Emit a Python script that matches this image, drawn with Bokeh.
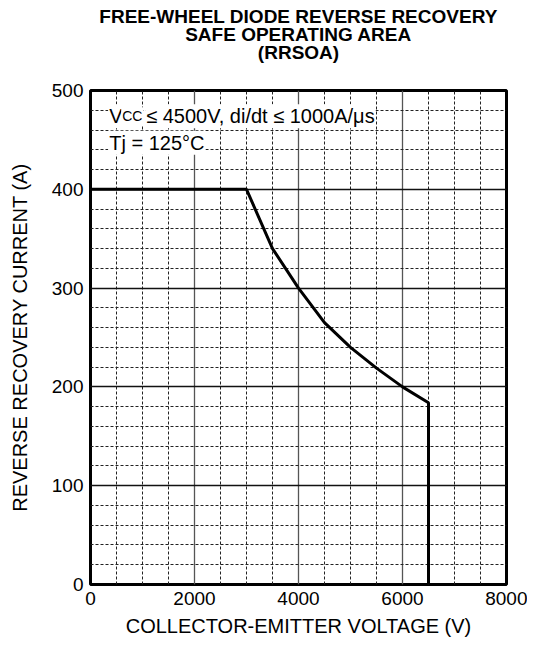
from bokeh.plotting import figure
from bokeh.models import Label, SingleIntervalTicker, Range1d, Title
from bokeh.embed import file_html
from bokeh.resources import INLINE

# Data
vce = [0, 3000, 3500, 4000, 4500, 5000, 5500, 6000, 6500, 6500]
irr = [400, 400, 340, 300, 265, 240, 219, 200, 184, 0]

x_ticks_interval = 2000
y_ticks_interval = 100
title_lines = ["FREE-WHEEL DIODE REVERSE RECOVERY", "SAFE OPERATING AREA", "(RRSOA)"]
x_label = "COLLECTOR-EMITTER VOLTAGE (V)"
y_label = "REVERSE RECOVERY CURRENT (A)"
note_v = "V"
note_cc = "CC"
note_rest = "\u2264 4500V, di/dt \u2264 1000A/\u03bcs"
note_t = "Tj = 125\u00b0C"

FONT = "Liberation Sans"

p = figure(frame_width=416, frame_height=494, output_backend="svg", toolbar_location=None,
           x_range=Range1d(0, 8000), y_range=Range1d(0, 500),
           min_border_left=90, min_border_right=21, min_border_top=90, min_border_bottom=60)
p.title.visible = False
p.background_fill_color = "white"
p.border_fill_color = "white"

xt = SingleIntervalTicker(interval=x_ticks_interval, num_minor_ticks=4)
yt = SingleIntervalTicker(interval=y_ticks_interval, num_minor_ticks=5)
p.xaxis.ticker = xt
p.yaxis.ticker = yt
p.xgrid.ticker = xt
p.ygrid.ticker = yt

for ax in (p.xaxis[0], p.yaxis[0]):
    ax.axis_line_color = None
    ax.major_tick_out = 0
    ax.major_tick_in = 0
    ax.minor_tick_out = 0
    ax.minor_tick_in = 0
    ax.major_label_text_font = FONT
    ax.major_label_text_font_size = "19px"
    ax.major_label_text_color = "black"
    ax.axis_label_text_font = FONT
    ax.axis_label_text_font_size = "20px"
    ax.axis_label_text_font_style = "normal"
    ax.axis_label_text_color = "black"

p.xaxis.axis_label = x_label
p.yaxis.axis_label = y_label
p.xaxis.major_label_standoff = 7
p.yaxis.major_label_standoff = 7
p.xaxis.axis_label_standoff = 7
p.yaxis.axis_label_standoff = 18

for g in (p.xgrid[0], p.ygrid[0]):
    g.grid_line_color = "#111111"
    g.grid_line_width = 1.3
    g.minor_grid_line_color = "#222222"
    g.minor_grid_line_width = 1
    g.minor_grid_line_dash = "3 2"
p.xgrid.grid_line_color = "#555555"

p.outline_line_color = "black"
p.outline_line_width = 3

p.line(vce, irr, line_color="black", line_width=3)

# spacer between frame and title block
p.add_layout(Title(text=" ", text_font_size="1px", standoff=27), "above")
# Title: three centred lines, nearest line added first
for line in reversed(title_lines):
    p.add_layout(Title(text=line, align="center", text_font=FONT, text_font_size="19px",
                       text_font_style="bold", text_color="black", standoff=-5.5), "above")

lab_kw = dict(text_font=FONT, text_color="black", background_fill_color="white",
              text_baseline="alphabetic", padding=1)
p.add_layout(Label(x=340, y=474, text=note_v, text_font_size="20px", **lab_kw))
p.add_layout(Label(x=340, y=474, x_offset=13, text=note_cc, text_font_size="14px", **lab_kw))
p.add_layout(Label(x=340, y=474, x_offset=37, text=note_rest, text_font_size="20px", **lab_kw))
p.add_layout(Label(x=340, y=447, text=note_t, text_font_size="20px", **lab_kw))

open("out.html", "w").write(file_html(p, INLINE))
